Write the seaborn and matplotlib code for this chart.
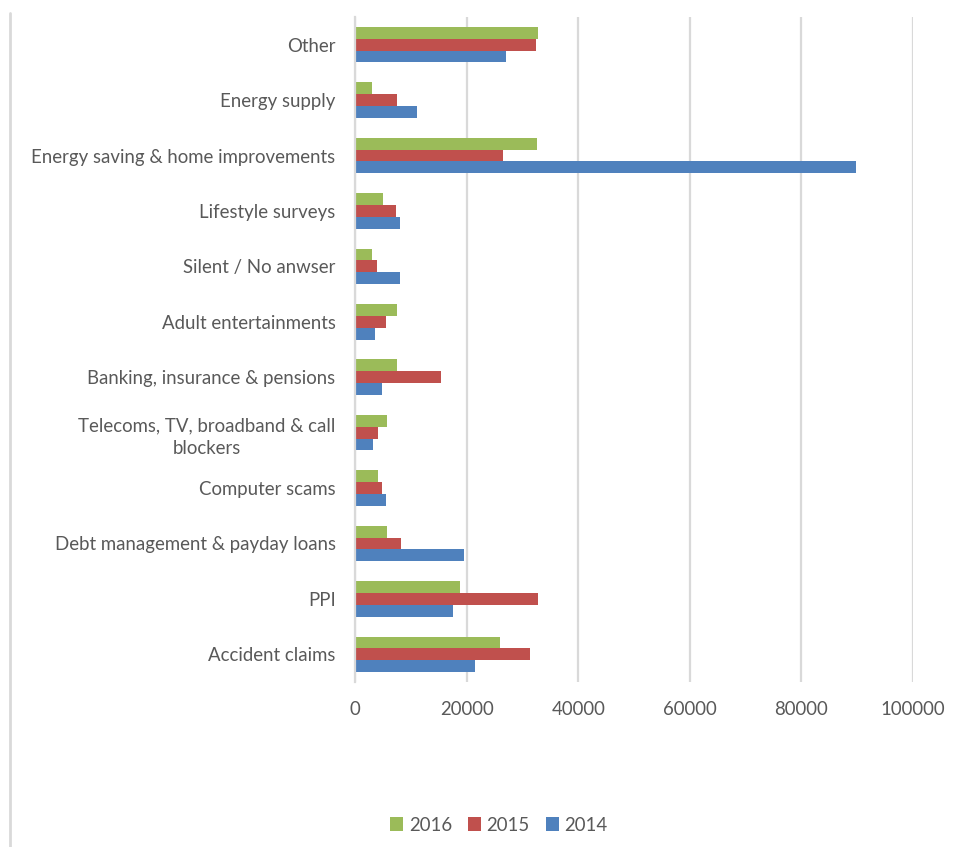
import matplotlib
matplotlib.use("Agg")
import matplotlib.pyplot as plt
from matplotlib.lines import Line2D
import seaborn as sns
import pandas as pd

categories = [
    "Other",
    "Energy supply",
    "Energy saving & home improvements",
    "Lifestyle surveys",
    "Silent / No anwser",
    "Adult entertainments",
    "Banking, insurance & pensions",
    "Telecoms, TV, broadband & call\nblockers",
    "Computer scams",
    "Debt management & payday loans",
    "PPI",
    "Accident claims",
]
values_2016 = [32800, 3000, 32700, 5100, 3000, 7600, 7600, 5700, 4100, 5700, 18900, 26000]
values_2015 = [32400, 7600, 26500, 7400, 4000, 5500, 15500, 4100, 4900, 8200, 32800, 31300]
values_2014 = [27000, 11100, 89700, 8000, 8000, 3500, 4900, 3200, 5500, 19500, 17600, 21500]
years = ["2016", "2015", "2014"]
colors = ["#9BBB59", "#C0504D", "#4F81BD"]
x_ticks = [0, 20000, 40000, 60000, 80000, 100000]

rows = []
for year, vals in zip(years, [values_2016, values_2015, values_2014]):
    for cat, v in zip(categories, vals):
        rows.append({"category": cat, "year": year, "calls": v})
df = pd.DataFrame(rows)

sns.set_theme(style="white")
plt.rcParams["font.family"] = ["Lato", "DejaVu Sans"]
text_color = "#595959"
grid_color = "#D9D9D9"
fs = 13.4

fig = plt.figure(figsize=(9.67, 8.47), dpi=100)
ax = fig.add_axes([355 / 967, 1 - 682 / 847, (913 - 355) / 967, (682 - 17) / 847])

sns.barplot(
    data=df, x="calls", y="category", hue="year",
    order=categories, hue_order=years, palette=colors,
    orient="h", width=0.64, gap=0, saturation=1, linewidth=0,
    errorbar=None, ax=ax, legend=False,
)

ax.set_xlim(0, 100000)
ax.set_xticks(x_ticks)
ax.set_xticklabels([str(t) for t in x_ticks])
ax.set_xlabel("")
ax.set_ylabel("")
ax.grid(axis="x", color=grid_color, linewidth=1.6)
ax.grid(axis="y", visible=False)
ax.set_axisbelow(True)
for side in ["top", "right", "bottom"]:
    ax.spines[side].set_visible(False)
ax.spines["left"].set_color(grid_color)
ax.spines["left"].set_linewidth(1.6)
ax.tick_params(axis="x", length=0, pad=14, labelsize=fs, labelcolor=text_color)
ax.tick_params(axis="y", length=0, pad=14, labelsize=fs, labelcolor=text_color)
for lbl in ax.get_yticklabels():
    lbl.set_multialignment("center")
    lbl.set_linespacing(1.45)

# outer chart-area edge on the left
fig.add_artist(Line2D([10 / 967, 10 / 967], [0, 1 - 13 / 847],
                      transform=fig.transFigure, color=grid_color, linewidth=2))

handles = [plt.Rectangle((0, 0), 1, 1, facecolor=c, edgecolor="none") for c in colors]
fig.legend(handles, years, loc="center", bbox_to_anchor=(499 / 967, 1 - 825 / 847),
           ncol=3, frameon=False, fontsize=fs, labelcolor=text_color,
           handlelength=0.7, handleheight=0.7, handletextpad=0.3, columnspacing=0.85)

fig.savefig("out.png", dpi=100, facecolor="white")
